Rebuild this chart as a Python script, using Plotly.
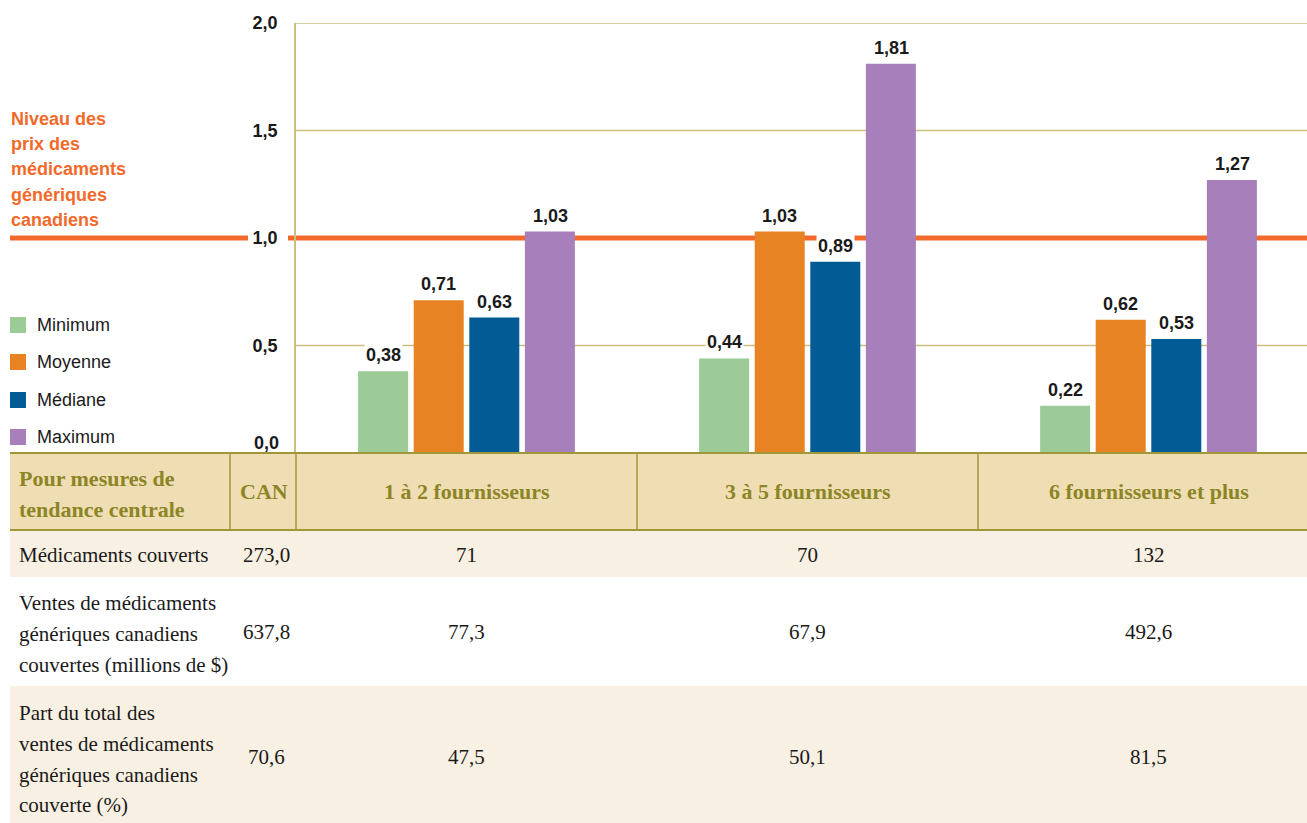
import plotly.graph_objects as go

# ---------------- data ----------------
categories = ["1 à 2 fournisseurs", "3 à 5 fournisseurs", "6 fournisseurs et plus"]
series_names = ["Minimum", "Moyenne", "Médiane", "Maximum"]
minimum = [0.38, 0.44, 0.22]
moyenne = [0.71, 1.03, 0.62]
mediane = [0.63, 0.89, 0.53]
maximum = [1.03, 1.81, 1.27]
series_values = [minimum, moyenne, mediane, maximum]
series_colors = ["#9ccb98", "#e88324", "#035b96", "#a780bb"]

y_ticks = [0.5, 1.0, 1.5, 2.0]
reference_level = 1.0
reference_label = ["Niveau des", "prix des", "médicaments", "génériques", "canadiens"]

table_header_left = ["Pour mesures de", "tendance centrale"]
table_header_can = "CAN"
row_labels = [
    ["Médicaments couverts"],
    ["Ventes de médicaments", "génériques canadiens", "couvertes (millions de $)"],
    ["Part du total des", "ventes de médicaments", "génériques canadiens", "couverte (%)"],
]
can_values = ["273,0", "637,8", "70,6"]
group_values = [
    ["71", "70", "132"],
    ["77,3", "67,9", "492,6"],
    ["47,5", "50,1", "81,5"],
]

# ---------------- layout helpers ----------------
W, H = 1307, 823
L, R, T, B = 296, 0, 23, 370
PW = W - L - R
PH = H - T - B


def px(x):
    return (x - L) / PW


def py(y):
    return (H - B - y) / PH


ORANGE = "#f26a2b"
GRID = "#cbbf80"
OLIVE = "#a09838"
HEAD_BG = "#efdeb4"
CREAM = "#f8f0e2"
HEAD_TXT = "#8c8526"
TXT = "#1a1a1a"
SANS = "Liberation Sans, Arial, sans-serif"
SERIF = "Liberation Serif, Times New Roman, serif"

fig = go.Figure()
for name, vals, col in zip(series_names, series_values, series_colors):
    fig.add_trace(go.Bar(name=name, x=categories, y=vals, marker=dict(color=col, line=dict(width=0)),
                         showlegend=False, hoverinfo="skip"))

shapes = []
annotations = []

# gridlines (drawn as shapes below the bars, the reference level replaces the 1.0 line)
for t in y_ticks:
    if t == reference_level:
        continue
    shapes.append(dict(type="line", xref="paper", yref="y", x0=0, x1=1, y0=t, y1=t,
                       line=dict(color=GRID, width=1.5), layer="below"))

# reference line (two segments, gap around tick label)
shapes.append(dict(type="line", xref="paper", yref="paper", x0=px(10), x1=px(248),
                   y0=py(238), y1=py(238), line=dict(color=ORANGE, width=5)))
shapes.append(dict(type="line", xref="paper", yref="y", x0=px(288), x1=1.0,
                   y0=reference_level, y1=reference_level, line=dict(color=ORANGE, width=5),
                   layer="below"))

# reference label
ref_y = [119, 144, 169, 195, 220]
for t, yy in zip(reference_label, ref_y):
    annotations.append(dict(xref="paper", yref="paper", x=px(9), y=py(yy), text=t,
                            xanchor="left", yanchor="middle", showarrow=False,
                            font=dict(family=SANS, size=18, color=ORANGE, weight="bold")))

# custom legend
leg_y = [325, 362, 400, 437]
for name, col, yy in zip(series_names, series_colors, leg_y):
    shapes.append(dict(type="rect", xref="paper", yref="paper", x0=px(10), x1=px(26),
                       y0=py(yy - 8), y1=py(yy + 8), fillcolor=col, line=dict(width=0)))
    annotations.append(dict(xref="paper", yref="paper", x=px(35), y=py(yy), text=name,
                            xanchor="left", yanchor="middle", showarrow=False,
                            font=dict(family=SANS, size=18, color=TXT)))

# bar value labels
offsets = [-83.5, -27.8, 27.8, 83.5]
for vals, off in zip(series_values, offsets):
    for cat, v in zip(categories, vals):
        annotations.append(dict(xref="x", yref="y", x=cat, y=v, xshift=off, yshift=16,
                                text=f"{v:.2f}".replace(".", ","), showarrow=False,
                                xanchor="center", yanchor="middle", bgcolor="white", borderpad=1,
                                font=dict(family=SANS, size=18, color=TXT, weight="bold")))

# 0,0 tick label (raised, as in the original)
annotations.append(dict(xref="paper", yref="y", x=px(281), y=0, yshift=10, text="0,0",
                        xanchor="right", yanchor="middle", showarrow=False,
                        font=dict(family=SANS, size=18, color=TXT, weight="bold")))

# ---------------- table ----------------
row_bounds = [(530, 577), (577, 686), (686, 823)]
row_fill = [CREAM, "white", CREAM]
shapes.append(dict(type="rect", xref="paper", yref="paper", x0=px(10), x1=1.0,
                   y0=py(530), y1=py(453), fillcolor=HEAD_BG, line=dict(width=0), layer="above"))
for (a, b), f in zip(row_bounds, row_fill):
    shapes.append(dict(type="rect", xref="paper", yref="paper", x0=px(10), x1=1.0,
                       y0=py(b), y1=py(a), fillcolor=f, line=dict(width=0), layer="above"))
for yy in (453, 530):
    shapes.append(dict(type="line", xref="paper", yref="paper", x0=px(10), x1=1.0,
                       y0=py(yy), y1=py(yy), line=dict(color=OLIVE, width=2), layer="above"))
for xx in (230, 296, 637, 978):
    shapes.append(dict(type="line", xref="paper", yref="paper", x0=px(xx), x1=px(xx),
                       y0=py(530), y1=py(453), line=dict(color=OLIVE, width=1.5), layer="above"))

head_font = dict(family=SERIF, size=22, color=HEAD_TXT, weight="bold")
body_font = dict(family=SERIF, size=21, color=TXT)

for t, yy in zip(table_header_left, [479, 509]):
    annotations.append(dict(xref="paper", yref="paper", x=px(17), y=py(yy), text=t,
                            xanchor="left", yanchor="middle", showarrow=False, font=head_font))
annotations.append(dict(xref="paper", yref="paper", x=px(264), y=py(492), text=table_header_can,
                        xanchor="center", yanchor="middle", showarrow=False, font=head_font))
for cat in categories:
    annotations.append(dict(xref="x", yref="paper", x=cat, y=py(492), text=cat,
                            xanchor="center", yanchor="middle", showarrow=False, font=head_font))

label_lines_y = [[555], [603, 634, 665], [713, 744, 775, 805]]
value_y = [555, 632, 757]
for lines, ys, cv, gv, vy in zip(row_labels, label_lines_y, can_values, group_values, value_y):
    for t, yy in zip(lines, ys):
        annotations.append(dict(xref="paper", yref="paper", x=px(17), y=py(yy), text=t,
                                xanchor="left", yanchor="middle", showarrow=False, font=body_font))
    annotations.append(dict(xref="paper", yref="paper", x=px(266), y=py(vy), text=cv,
                            xanchor="center", yanchor="middle", showarrow=False, font=body_font))
    for cat, v in zip(categories, gv):
        annotations.append(dict(xref="x", yref="paper", x=cat, y=py(vy), text=v,
                                xanchor="center", yanchor="middle", showarrow=False, font=body_font))

fig.update_layout(
    width=W, height=H,
    margin=dict(l=L, r=R, t=T, b=B, pad=0),
    paper_bgcolor="white", plot_bgcolor="rgba(0,0,0,0)",
    barmode="group", bargap=0.348, bargroupgap=0.1,
    separators=", ",
    showlegend=False,
    shapes=shapes, annotations=annotations,
    xaxis=dict(range=[-0.5, -0.5 + PW / 341.0], showgrid=False, showticklabels=False,
               zeroline=False, showline=False, ticks=""),
    yaxis=dict(range=[0, 2.0], tickvals=y_ticks, tickformat=".1f", showgrid=False,
               zeroline=False, showline=True,
               linecolor=GRID, linewidth=1.5, ticks="", ticklabelstandoff=13,
               tickfont=dict(family=SANS, size=18, color=TXT, weight="bold")),
)

fig.write_html("out.html")
